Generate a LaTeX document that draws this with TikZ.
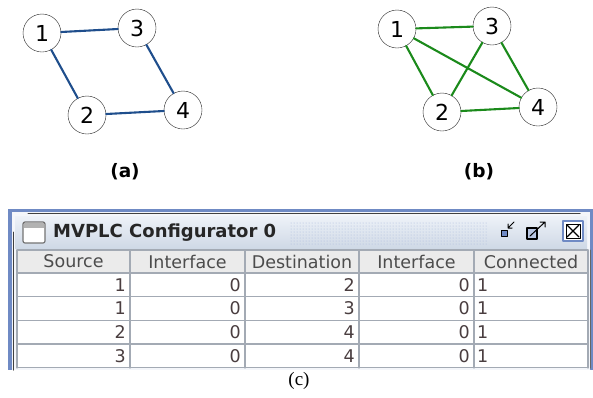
\documentclass[tikz,border=0pt]{standalone}
\usepackage{fontspec}
\setmainfont{DejaVu Sans}
\newfontfamily\capfont{Liberation Serif}
\usetikzlibrary{patterns}
\definecolor{edgeblue}{HTML}{1F4E8C}
\definecolor{edgegreen}{HTML}{1B8A1B}
\definecolor{framebl}{HTML}{6F8AC4}
\definecolor{titletop}{HTML}{EEF2F8}
\definecolor{titlebot}{HTML}{CFD9E6}
\definecolor{gridc}{HTML}{A3AAB4}
\definecolor{headbg}{HTML}{EBEBEB}
\definecolor{celltxt}{HTML}{4A3E40}
\begin{document}
\begin{tikzpicture}[x=1pt, y=-1pt, line join=round, line cap=round,
	vert/.style={circle, draw=black!85, thin, fill=white, minimum size=38pt, inner sep=0pt, font=\fontsize{22}{22}\selectfont},
	linka/.style={edgeblue, line width=2.1pt},
	linkb/.style={edgegreen, line width=2.1pt},
	sub/.style={font=\bfseries\fontsize{18.5}{19}\selectfont},
	cell/.style={inner sep=0pt, text=celltxt, font=\fontsize{17.5}{18}\selectfont},
	grid/.style={gridc, line width=1.2pt}]
	\useasboundingbox (0,0) rectangle (593,397);
	% graph (a)
	\node[vert] (a1) at (42,33) {1};
	\node[vert] (a3) at (137,28) {3};
	\node[vert] (a2) at (87,115) {2};
	\node[vert] (a4) at (183,110) {4};
	\draw[linka] (a1)--(a3) (a1)--(a2) (a3)--(a4) (a2)--(a4);
	\node[sub] (capa) at (125,172) {(a)};
	% graph (b)
	\node[vert] (b1) at (397,29) {1};
	\node[vert] (b3) at (492,26) {3};
	\node[vert] (b2) at (442,112) {2};
	\node[vert] (b4) at (538,107) {4};
	\draw[linkb] (b1)--(b3) (b1)--(b2) (b1)--(b4) (b3)--(b2) (b3)--(b4) (b2)--(b4);
	\node[sub] (capb) at (479,172) {(b)};
	% window (c)
	\fill[framebl] (8,209) rectangle (593,370);
	\fill[white!92!framebl] (12,212) rectangle (590,370);
	\draw[black!75, line width=1pt] (28,213)--(580,213);
	\draw[black!75, line width=1pt] (13,232)--(13,370);
	\shade[top color=titletop, bottom color=titlebot] (15,216) rectangle (587,248);
	\fill[pattern=dots, pattern color=framebl!60] (290,222) rectangle (488,244);
	% title bar icons
	\draw[black!55, line width=1.2pt, fill=white, rounded corners=2pt] (23,222) rectangle (45,243);
	\fill[black!30] (24,223) rectangle (44,228);
	\node[anchor=west, inner sep=0pt, text=black!85, font=\bfseries\fontsize{18}{18}\selectfont] (title) at (53,233) {MVPLC Configurator 0};
	\draw[black, fill=framebl, line width=1pt] (501,230) rectangle (507,236);
	\draw[black, line width=1pt] (514,222)--(508,228) (508,224)--(508,228)--(512,228);
	\draw[black, fill=framebl!50, line width=1.5pt] (527,228) rectangle (537,239);
	\draw[black, line width=1pt] (530,236)--(545,222) (540,222)--(545,222)--(545,227);
	\draw[framebl, line width=1.5pt, fill=white] (563,221) rectangle (583,241);
	\draw[black, line width=1pt] (566,224) rectangle (580,238);
	\draw[black, line width=1.3pt] (567,225)--(579,237) (579,225)--(567,237);
	% table
	\fill[white] (17,250) rectangle (588,368);
	\fill[headbg] (17,250) rectangle (588,273);
	\foreach \y in {250,273,296.7,320.3,344,367.7}
		\draw[grid] (17,\y)--(588,\y);
	\foreach \x in {17,130,245,359,474,588}
		\draw[grid] (\x,250)--(\x,368);
	\draw[black!60, line width=1pt] (590,250)--(590,368);
	\foreach \t/\x [count=\i] in {Source/73.5, Interface/187.5, Destination/302, Interface/416.5, Connected/531}
		\node[cell, text=black!70] (h\i) at (\x,261.5) {\t};
	\foreach \s/\d [count=\r] in {1/2, 1/3, 2/4, 3/4}{
		\node[cell, anchor=east] (src\r) at (126,{273+(\r-0.5)*23.67}) {\s};
		\node[cell, anchor=east] (ifs\r) at (241,{273+(\r-0.5)*23.67}) {0};
		\node[cell, anchor=east] (dst\r) at (355,{273+(\r-0.5)*23.67}) {\d};
		\node[cell, anchor=east] (ifd\r) at (470,{273+(\r-0.5)*23.67}) {0};
		\node[cell, anchor=west] (con\r) at (477,{273+(\r-0.5)*23.67}) {1};
	}
	\node[font=\capfont\fontsize{19}{19}\selectfont] (capc) at (299,381) {(c)};
\end{tikzpicture}
\end{document}
